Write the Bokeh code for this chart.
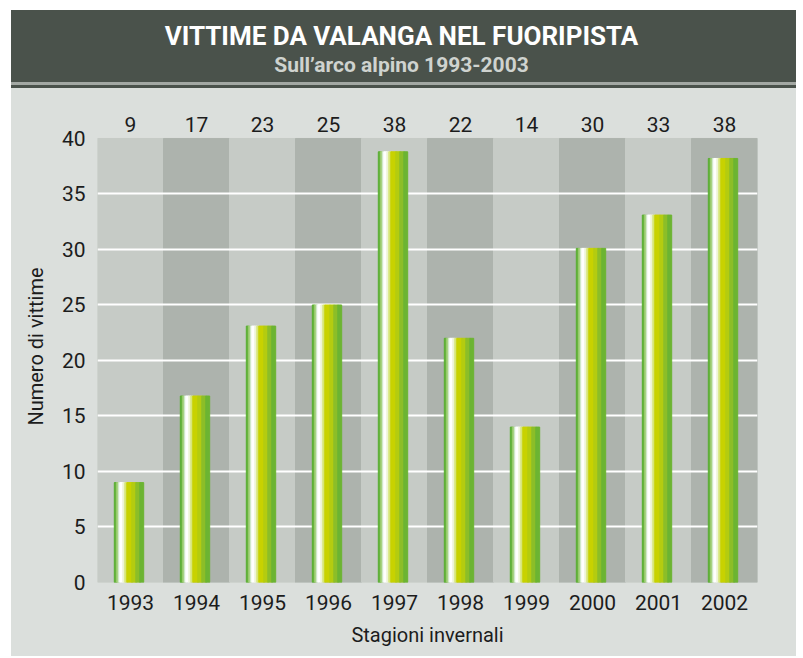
from bokeh.plotting import figure
from bokeh.layouts import column
from bokeh.models import FactorRange, Range1d, FixedTicker, ColumnDataSource, Div
from bokeh.transform import dodge
from bokeh.core.properties import value
from bokeh.embed import file_html
from bokeh.resources import INLINE

years = ["1993", "1994", "1995", "1996", "1997", "1998", "1999", "2000", "2001", "2002"]
victims = [9, 16.8, 23.1, 25, 38.8, 22, 14, 30.1, 33.1, 38.2]
value_labels = ["9", "17", "23", "25", "38", "22", "14", "30", "33", "38"]
y_ticks = [0, 5, 10, 15, 20, 25, 30, 35, 40]
grid_ticks = [5, 10, 15, 20, 25, 30, 35]

TITLE = "VITTIME DA VALANGA NEL FUORIPISTA"
SUBTITLE = "Sull\u2019arco alpino 1993-2003"
FONT = "Roboto"

PANEL = "#dbdfdc"
HEADER = "#4a524b"
SHADOW = "#a3a8a3"
BAND_LIGHT = "#c6cbc6"
BAND_DARK = "#adb3ad"
TXT = "#1c1c1c"

W = 785
HEAD_H = 78
MAIN_H = 568
frame_w = 660.0
cat_px = frame_w / len(years)

# ---------- header ----------
header_html = (
    f'<div style="position:relative;width:{W}px;height:{HEAD_H - 3}px;background:{HEADER};'
    f'border-bottom:3px solid {SHADOW};font-family:{FONT};text-align:center;margin:0;padding:0;'
    f'overflow:hidden;">'
    f'<div style="position:absolute;left:-2px;width:{W}px;top:11px;height:30px;font-size:26px;'
    f'font-weight:bold;color:#ffffff;line-height:30px;">{TITLE}</div>'
    f'<div style="position:absolute;left:-2px;width:{W}px;top:43px;height:25px;font-size:21px;'
    f'font-weight:bold;color:#cfd3cf;line-height:25px;">{SUBTITLE}</div></div>'
)
h = Div(text=header_html, width=W, height=HEAD_H, margin=0,
        styles={"background-color": HEADER, "padding": "0px", "margin": "0px"})

# ---------- main chart ----------
p = figure(width=W, height=MAIN_H, x_range=FactorRange(*years, range_padding=0, factor_padding=0),
           y_range=Range1d(0, 42.52), output_backend="svg", toolbar_location=None,
           min_border_left=86, min_border_right=39, min_border_top=22, min_border_bottom=74)
p.margin = 0
p.border_fill_color = PANEL
p.background_fill_color = PANEL
p.outline_line_color = None

band_src = ColumnDataSource(dict(x=years, top=[40] * len(years),
                                 color=[BAND_LIGHT if i % 2 == 0 else BAND_DARK for i in range(len(years))]))
p.vbar(x="x", top="top", bottom=0, width=1.0, color="color", source=band_src, level="image")

p.xgrid.grid_line_color = None
p.ygrid.ticker = FixedTicker(ticks=grid_ticks)
p.ygrid.grid_line_color = "white"
p.ygrid.grid_line_width = 2
p.ygrid.grid_line_alpha = 1.0

stripes = [("#5aae32", 2.0), ("#9ccc70", 2.0), ("#d4ead0", 1.5), ("#ffffff", 3.0), ("#eef4d8", 2.0),
           ("#d8e67a", 2.0), ("#c8d200", 5.0), ("#b4cc10", 4.0), ("#8cbe28", 4.0), ("#6cb432", 3.5)]
bar_src = ColumnDataSource(dict(x=years, top=victims))
left_px = -1.5 - sum(w for _, w in stripes) / 2.0
for col, wpx in stripes:
    center_px = left_px + wpx / 2.0
    p.vbar(x=dodge("x", center_px / cat_px, range=p.x_range), top="top", bottom=0,
           width=(wpx + 0.4) / cat_px, color=col, source=bar_src)
    left_px += wpx

lab_src = ColumnDataSource(dict(x=years, y=[40] * len(years), t=value_labels))
p.text(x="x", y="y", text="t", source=lab_src, text_align="center", text_baseline="middle",
       y_offset=-14, text_font=value(FONT), text_font_size="21px", text_color=TXT)

p.yaxis.ticker = FixedTicker(ticks=y_ticks)
p.yaxis.axis_line_color = None
p.yaxis.major_tick_line_color = None
p.yaxis.minor_tick_line_color = None
p.yaxis.major_label_text_font = FONT
p.yaxis.major_label_text_font_size = "21px"
p.yaxis.major_label_text_color = TXT
p.yaxis.major_label_standoff = 6
p.yaxis.axis_label = "Numero di vittime"
p.yaxis.axis_label_text_font = FONT
p.yaxis.axis_label_text_font_size = "20px"
p.yaxis.axis_label_text_font_style = "normal"
p.yaxis.axis_label_text_color = TXT
p.yaxis.axis_label_standoff = 11

p.xaxis.axis_line_color = None
p.xaxis.major_tick_line_color = None
p.xaxis.major_label_text_font = FONT
p.xaxis.major_label_text_font_size = "21px"
p.xaxis.major_label_text_color = TXT
p.xaxis.major_label_standoff = 6
p.xaxis.axis_label = "Stagioni invernali"
p.xaxis.axis_label_text_font = FONT
p.xaxis.axis_label_text_font_size = "20px"
p.xaxis.axis_label_text_font_style = "normal"
p.xaxis.axis_label_text_color = TXT
p.xaxis.axis_label_standoff = 10

layout = column(h, p, spacing=0)
layout.margin = (10, 0, 0, 11)
layout.styles = {"background-color": PANEL}

open("out.html", "w").write(file_html(layout, INLINE))
